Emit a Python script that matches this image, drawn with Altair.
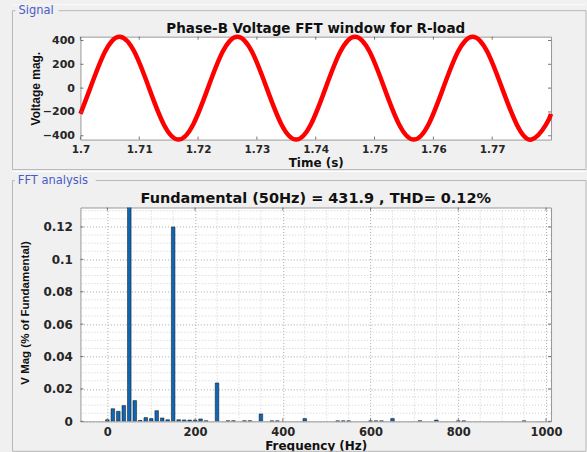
import altair as alt
import pandas as pd

# ---------------- data ----------------
sig_t = [1.7000, 1.70167, 1.70417, 1.70667, 1.70917, 1.71167, 1.71417, 1.71667, 1.71917,
         1.72167, 1.72417, 1.72667, 1.72917, 1.73167, 1.73417, 1.73667, 1.73917,
         1.74167, 1.74417, 1.74667, 1.74917, 1.75167, 1.75417, 1.75667, 1.75917,
         1.76167, 1.76417, 1.76667, 1.76917, 1.77167, 1.77417, 1.77667, 1.77917, 1.7800]
sig_v = [-216, 0, 305, 432, 305, 0, -305, -432, -305,
         0, 305, 432, 305, 0, -305, -432, -305,
         0, 305, 432, 305, 0, -305, -432, -305,
         0, 305, 432, 305, 0, -305, -432, -305, -216]

fft_f = [0, 12.5, 25, 37.5, 50, 62.5, 75, 87.5, 100, 112.5, 125, 137.5, 150, 162.5, 175,
         187.5, 200, 212.5, 225, 250, 275, 287.5, 312.5, 325, 350, 375, 387.5, 450, 525,
         537.5, 550, 600, 612.5, 625, 650, 712.5, 750, 800, 812.5, 950]
fft_m = [0.0010, 0.0078, 0.0062, 0.0097, 100.0, 0.0128, 0.0006, 0.0023, 0.0017, 0.0066,
         0.0021, 0.0010, 0.1200, 0.0010, 0.0009, 0.0008, 0.0008, 0.0015, 0.0004, 0.0237,
         0.0004, 0.0004, 0.0004, 0.0004, 0.0046, 0.0003, 0.0003, 0.0017, 0.0003, 0.0003,
         0.0003, 0.0003, 0.0003, 0.0003, 0.0017, 0.0004, 0.0008, 0.0003, 0.0003, 0.0003]

top_x_ticks = [1.70, 1.71, 1.72, 1.73, 1.74, 1.75, 1.76, 1.77]
top_y_ticks = [-400, -200, 0, 200, 400]
bot_x_ticks = [0, 200, 400, 600, 800, 1000]
bot_y_ticks = [0, 0.02, 0.04, 0.06, 0.08, 0.1, 0.12]
bot_x_minor = [50, 100, 150, 250, 300, 350, 450, 500, 550, 650, 700, 750, 850, 900, 950]
bot_y_minor = [0.005, 0.01, 0.015, 0.025, 0.03, 0.035, 0.045, 0.05, 0.055, 0.065, 0.07,
               0.075, 0.085, 0.09, 0.095, 0.105, 0.11, 0.115, 0.125, 0.13]

title_top = "Phase-B Voltage FFT window for R-load"
title_bot = "Fundamental (50Hz) = 431.9 , THD= 0.12%"

# ---------------- style ----------------
W = 471
H1 = 103
H2 = 214
BG = "#f0f0f0"
FT = "DejaVu Sans"
FN = "Liberation Sans, Arial, sans-serif"
FRAME = "#b8b8b8"
LABEL_BLUE = "#4a5cc8"
TICKC = "#707070"

one = alt.Data(values=[{"a": 1}])

sig_df = pd.DataFrame({"t": sig_t, "v": sig_v})
fft_df = pd.DataFrame({"f": fft_f, "m": fft_m})


def group_box(y_top, y_bot, label, lab_x, lab_w, lab_y, anchor_y, anchor_color):
    layers = []
    layers.append(alt.Chart(one).mark_rule(stroke=anchor_color, strokeWidth=1).encode(
        x=alt.value(-68), x2=alt.value(506), y=alt.value(anchor_y)))
    layers.append(alt.Chart(one).mark_rect(filled=False, stroke=FRAME, strokeWidth=1).encode(
        x=alt.value(-68), x2=alt.value(506), y=alt.value(y_top), y2=alt.value(y_bot)))
    layers.append(alt.Chart(one).mark_rect(fill=BG).encode(
        x=alt.value(lab_x - 3), x2=alt.value(lab_x + lab_w), y=alt.value(lab_y - 6), y2=alt.value(lab_y + 6)))
    layers.append(alt.Chart(one).mark_text(text=label, align="left", baseline="middle", font=FT,
                                           fontSize=11.5, color=LABEL_BLUE).encode(
        x=alt.value(lab_x), y=alt.value(lab_y)))
    return layers


# ---------------- top chart ----------------
tx = alt.Scale(domain=[1.7, 1.78], nice=False, zero=False)
ty = alt.Scale(domain=[-432, 432], nice=False, zero=False)

top_x_axis = alt.Axis(
    values=top_x_ticks, format="~g", labelFont=FT, labelFontWeight="bold", labelFontSize=10.5,
    labelColor="#262626", labelPadding=5, labelFlush=False, labelOverlap=False,
    ticks=False, tickSize=0, domain=False, grid=False,
    title="Time (s)", titleFont=FT, titleFontWeight="bold", titleFontSize=12, titleColor="#111",
    titleX=W / 2, titleY=23, titleBaseline="middle", titleAlign="center")
top_y_axis = alt.Axis(
    values=top_y_ticks, labelFont=FT, labelFontWeight="bold", labelFontSize=11,
    labelColor="#262626", labelPadding=6, labelFlush=False, labelOverlap=False,
    ticks=False, tickSize=0, domain=False, grid=False,
    title="Voltage mag.", titleFont=FN, titleFontWeight="bold", titleFontSize=12, titleColor="#111",
    titleX=-45, titleY=H1 / 2, titleAngle=270, titleBaseline="middle", titleAlign="center")

top_layers = group_box(-26, 133, "Signal", -62, 40, -26, -32, "#fbfbfb")
top_layers.append(alt.Chart(one).mark_rule(stroke="white", strokeWidth=1).encode(
    x=alt.value(-68), x2=alt.value(506), y=alt.value(135)))
top_layers.append(alt.Chart(one).mark_text(text=title_top, align="center", baseline="alphabetic",
                                           font=FT, fontSize=13.5, fontWeight="bold", color="#111").encode(
    x=alt.value(W / 2), y=alt.value(-3.7)))

line = alt.Chart(sig_df).mark_line(color="#ff0000", strokeWidth=4.5, interpolate="natural").encode(
    x=alt.X("t:Q", scale=tx, axis=top_x_axis),
    y=alt.Y("v:Q", scale=ty, axis=top_y_axis),
)

txdf = pd.DataFrame({"t": top_x_ticks})
tydf = pd.DataFrame({"v": top_y_ticks})
tick_layers_top = [
    alt.Chart(txdf).mark_rule(stroke=TICKC).encode(x=alt.X("t:Q", scale=tx, axis=top_x_axis), y=alt.value(H1), y2=alt.value(H1 - 3)),
    alt.Chart(txdf).mark_rule(stroke=TICKC).encode(x=alt.X("t:Q", scale=tx, axis=top_x_axis), y=alt.value(0), y2=alt.value(3)),
    alt.Chart(tydf).mark_rule(stroke=TICKC).encode(y=alt.Y("v:Q", scale=ty, axis=top_y_axis), x=alt.value(0), x2=alt.value(3)),
    alt.Chart(tydf).mark_rule(stroke=TICKC).encode(y=alt.Y("v:Q", scale=ty, axis=top_y_axis), x=alt.value(W - 3), x2=alt.value(W)),
]

top = alt.layer(*top_layers, line, *tick_layers_top).properties(width=W, height=H1)

# ---------------- bottom chart ----------------
bx = alt.Scale(domain=[-50, 1000], nice=False, zero=False)
by = alt.Scale(domain=[0, 0.132], nice=False, zero=True)

bot_x_axis = alt.Axis(
    values=bot_x_ticks, format="d", labelFont=FT, labelFontWeight="bold", labelFontSize=11.5,
    labelColor="#262626", labelPadding=5, labelFlush=False, labelOverlap=False,
    ticks=False, tickSize=0, domain=False, grid=True, gridColor="#a8a8a8", gridDash=[1, 2],
    title="Frequency (Hz)", titleFont=FT, titleFontWeight="bold", titleFontSize=12, titleColor="#111",
    titleX=W / 2, titleY=24.5, titleBaseline="middle", titleAlign="center")
bot_y_axis = alt.Axis(
    values=bot_y_ticks, format="~g", labelFont=FT, labelFontWeight="bold", labelFontSize=12,
    labelColor="#262626", labelPadding=8, labelFlush=False, labelOverlap=False,
    ticks=False, tickSize=0, domain=False, grid=True, gridColor="#a8a8a8", gridDash=[1, 2],
    title="V Mag (% of Fundamental)", titleFont=FN, titleFontWeight="bold", titleFontSize=11.5,
    titleColor="#111", titleX=-55, titleY=H2 / 2 - 2, titleAngle=270, titleBaseline="middle",
    titleAlign="center")

bot_layers = group_box(-27, 244, "FFT analysis", -62.7, 78, -26.5, -34, BG)
bot_layers.append(alt.Chart(one).mark_text(text=title_bot, align="center", baseline="alphabetic",
                                           font=FT, fontSize=14.5, fontWeight="bold", color="#111").encode(
    x=alt.value(W / 2), y=alt.value(-5)))

minor_x = alt.Chart(pd.DataFrame({"f": bot_x_minor})).mark_rule(
    stroke="#cfcfcf", strokeDash=[1, 2], strokeWidth=1).encode(x=alt.X("f:Q", scale=bx, axis=bot_x_axis))
minor_y = alt.Chart(pd.DataFrame({"m": bot_y_minor})).mark_rule(
    stroke="#cfcfcf", strokeDash=[1, 2], strokeWidth=1).encode(y=alt.Y("m:Q", scale=by, axis=bot_y_axis))

bars = alt.Chart(fft_df).mark_bar(size=3.6, fill="#0f66b4", stroke="#111111", strokeWidth=0.5, clip=True).encode(
    x=alt.X("f:Q", scale=bx, axis=bot_x_axis),
    y=alt.Y("m:Q", scale=by, axis=bot_y_axis),
)

bxdf = pd.DataFrame({"f": bot_x_ticks})
bydf = pd.DataFrame({"m": bot_y_ticks})
tick_layers_bot = [
    alt.Chart(bxdf).mark_rule(stroke=TICKC).encode(x=alt.X("f:Q", scale=bx, axis=bot_x_axis), y=alt.value(H2), y2=alt.value(H2 - 3)),
    alt.Chart(bxdf).mark_rule(stroke=TICKC).encode(x=alt.X("f:Q", scale=bx, axis=bot_x_axis), y=alt.value(0), y2=alt.value(3)),
    alt.Chart(bydf).mark_rule(stroke=TICKC).encode(y=alt.Y("m:Q", scale=by, axis=bot_y_axis), x=alt.value(0), x2=alt.value(3)),
    alt.Chart(bydf).mark_rule(stroke=TICKC).encode(y=alt.Y("m:Q", scale=by, axis=bot_y_axis), x=alt.value(W - 3), x2=alt.value(W)),
]

bottom = alt.layer(*bot_layers, minor_x, minor_y, bars, *tick_layers_bot).properties(width=W, height=H2)

chart = alt.vconcat(top, bottom, spacing=0).properties(
    background=BG,
    padding={"left": 11.5, "top": 3.5, "right": 0, "bottom": 0},
).configure_view(fill="white", stroke="#999999", strokeWidth=1)

chart.save("out.html", embed_options={"renderer": "svg", "actions": False})
